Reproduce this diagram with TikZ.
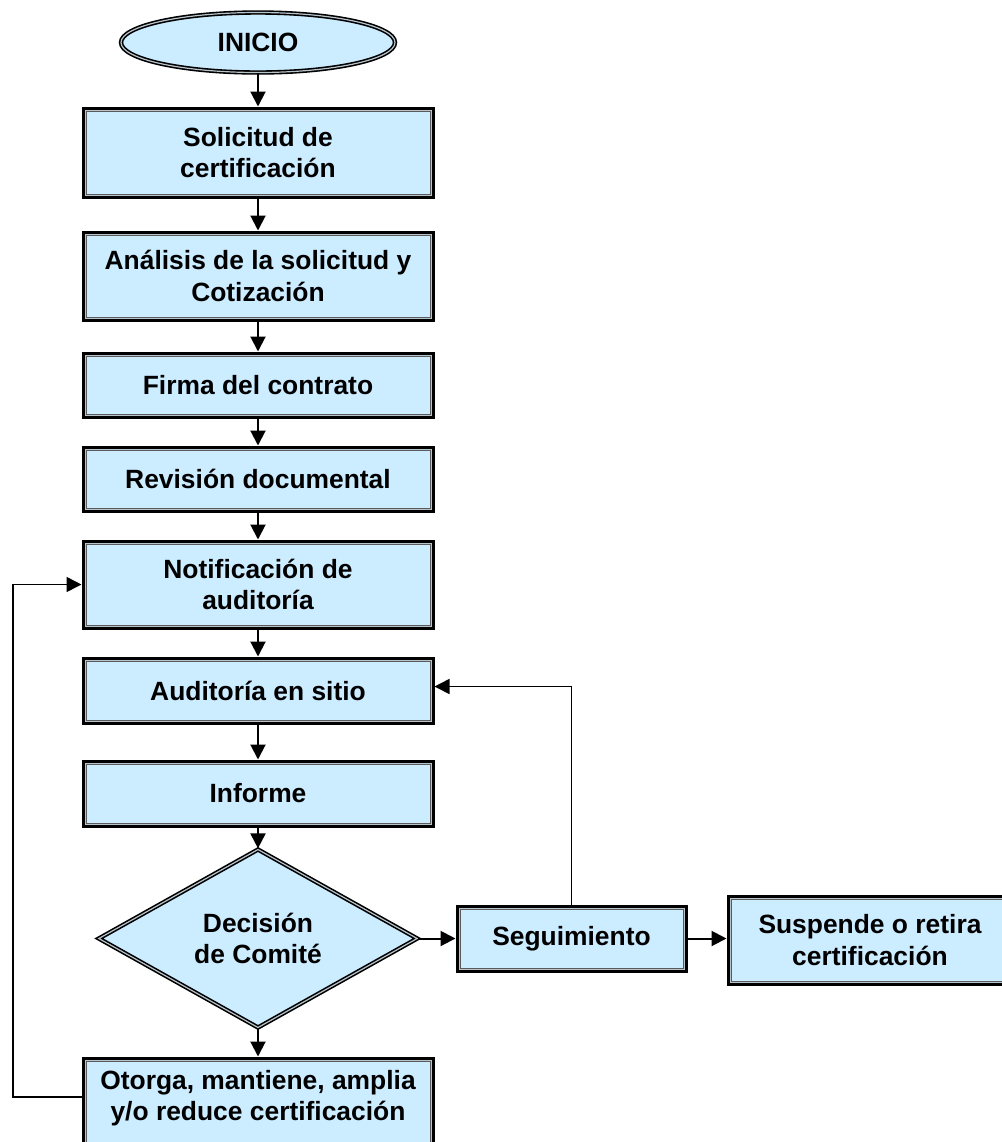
\documentclass[tikz,border=0pt]{standalone}
\usepackage{fontspec}
\setmainfont{Liberation Sans}
\usetikzlibrary{shapes.geometric,arrows.meta}
\definecolor{boxfill}{HTML}{CCECFF}
\definecolor{innerlight}{HTML}{B8C4CC}
\definecolor{innerdark}{HTML}{5A5A5A}
\begin{document}
\begin{tikzpicture}[x=0.5pt,y=-0.5pt,
  every node/.style={font=\fontsize{13.2pt}{15.7pt}\selectfont\bfseries, align=center},
  procbox/.style={rectangle, fill=boxfill, draw=black, line width=1.5pt, inner sep=0pt,
    minimum width=175pt,
    path picture={
      \draw[innerlight, line width=0.5pt] ([shift={(1pt,1pt)}]path picture bounding box.south west) rectangle ([shift={(-1pt,-1pt)}]path picture bounding box.north east);
      \draw[innerdark, line width=0.5pt] ([shift={(1.5pt,1.5pt)}]path picture bounding box.south west) rectangle ([shift={(-1.5pt,-1.5pt)}]path picture bounding box.north east);
    }},
  decision/.style={diamond, fill=boxfill, draw=black, line width=0.8pt, double=innerlight,
    double distance=0.6pt, inner sep=0pt, minimum width=159.5pt, minimum height=82.5pt},
  startnode/.style={ellipse, fill=boxfill, draw=black, line width=0.8pt, double=innerlight,
    double distance=0.6pt, inner sep=0pt, minimum width=137pt, minimum height=30pt},
  plaintext/.style={inner sep=0pt},
  conn/.style={-{Triangle[length=7.5pt,width=7.5pt]}, line width=1pt},
  loopconn/.style={-{Triangle[length=7.5pt,width=7.5pt]}, line width=0.8pt}
]
\useasboundingbox (0,0) rectangle (1002,1142);

\node[startnode] (inicio) at (258,42.5) {INICIO};
\node[procbox, minimum height=44.5pt] (sol) at (258,152.5) {Solicitud de\\certificación};
\node[procbox, minimum height=44pt] (ana) at (258,276) {Análisis de la solicitud y\\Cotización};
\node[procbox, minimum height=32pt] (firma) at (258,385) {Firma del contrato};
\node[procbox, minimum height=32pt] (rev) at (258,479) {Revisión documental};
\node[procbox, minimum height=43.5pt] (noti) at (258,584.5) {Notificación de\\auditoría};
\node[procbox, minimum height=32.5pt] (aud) at (258,690.5) {Auditoría en sitio};
\node[procbox, minimum height=32.5pt] (inf) at (258,793.5) {Informe};
\node[decision] (dec) at (258,938.5) {Decisión\\de Comité};
\node[procbox, minimum width=114.5pt, minimum height=32.5pt] (seg) at (571.5,938.5) {Seguimiento};
\node[procbox, minimum width=142pt, minimum height=44pt] (sus) at (870,940) {Suspende o retira\\certificación};
\node[procbox, minimum height=44pt] (otorga) at (258,1102) {};
\node[plaintext] (otorgatxt) at (258,1098) {Otorga, mantiene, amplia\\y/o reduce certificación};

\coordinate (loopx) at (13,0);

\draw[conn] (inicio) -- (sol);
\draw[conn] (sol) -- (ana);
\draw[conn] (ana) -- (firma);
\draw[conn] (firma) -- (rev);
\draw[conn] (rev) -- (noti);
\draw[conn] (noti) -- (aud);
\draw[conn] (aud) -- (inf);
\draw[conn] (inf) -- (dec);
\draw[conn] (dec.south) -- (otorga.north);
\draw[conn] (dec.east) -- (seg.west);
\draw[conn] (seg.east) -- (seg.east -| sus.west);
\draw[loopconn] (seg.north) |- ([yshift=2pt]aud.east);
\draw[loopconn] ([yshift=2.5pt]otorga.west) -- ([yshift=2.5pt]otorga.west -| loopx) |- (noti.west);
\end{tikzpicture}
\end{document}
